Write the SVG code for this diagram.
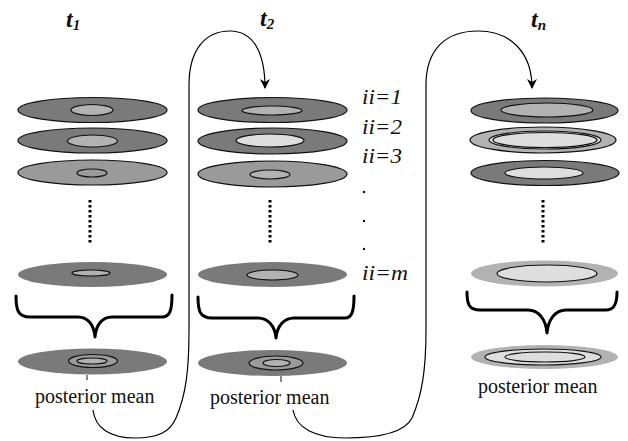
<svg xmlns="http://www.w3.org/2000/svg" width="628" height="441" viewBox="0 0 628 441">
<defs>
<style>
.o{stroke:#111;stroke-width:1.2}
.n{stroke:none}
.d{fill:#7a7a7a}
.m{fill:#9a9a9a}
.l{fill:#b2b2b2}
.v{fill:#dedede}
.br{fill:none;stroke:#000;stroke-width:3;stroke-linecap:round;stroke-linejoin:round}
.dots{stroke:#000;stroke-width:3;stroke-dasharray:2.5 2.5}
text{font-family:'Liberation Serif','Times New Roman',Tinos,'DejaVu Serif','Noto Serif',serif}
.pm{font-size:20px;fill:#111}
.t{font-weight:bold;font-style:italic;fill:#111}
.ii{font-style:italic;font-size:21px;fill:#111}
.c{fill:none;stroke:#000;stroke-width:1.2}
</style>
<marker id="ah" viewBox="0 0 10 10" refX="9" refY="5" markerWidth="10" markerHeight="10" markerUnits="userSpaceOnUse" orient="auto">
<path d="M0,0 L10,5 L0,10 L3,5 Z" fill="#000"/>
</marker>
</defs>
<rect width="628" height="441" fill="#fff"/>

<g id="labels">
<text class="t" x="66" y="27" font-size="24">t<tspan font-size="15" dy="3">1</tspan></text>
<text class="t" x="260" y="26" font-size="24">t<tspan font-size="15" dy="3">2</tspan></text>
<text class="t" x="531" y="27" font-size="24">t<tspan font-size="15" dy="3">n</tspan></text>
<text class="ii" x="362" y="104" textLength="40" lengthAdjust="spacingAndGlyphs">ii=1</text>
<text class="ii" x="362" y="134" textLength="40" lengthAdjust="spacingAndGlyphs">ii=2</text>
<text class="ii" x="362" y="163" textLength="40" lengthAdjust="spacingAndGlyphs">ii=3</text>
<circle cx="364" cy="192" r="1.2" fill="#111"/>
<circle cx="364" cy="221" r="1.2" fill="#111"/>
<circle cx="364" cy="249" r="1.2" fill="#111"/>
<text class="ii" x="362" y="280" textLength="46" lengthAdjust="spacingAndGlyphs">ii=m</text>
</g>

<g id="column1">
<ellipse class="d o" cx="92.5" cy="110" rx="74.5" ry="12.5"/>
<ellipse class="l o" cx="92" cy="110" rx="21" ry="5.5"/>
<ellipse class="d o" cx="92.5" cy="140.5" rx="74.5" ry="12.5"/>
<ellipse class="l o" cx="92.5" cy="141" rx="25" ry="6"/>
<ellipse class="m o" cx="92.5" cy="172.5" rx="74.5" ry="12.5"/>
<ellipse class="m o" cx="92" cy="173" rx="15" ry="4"/>
<line class="dots" x1="90" y1="200" x2="90" y2="243"/>
<ellipse class="d n" cx="92.5" cy="274.5" rx="74.5" ry="12.5"/>
<ellipse class="l o" cx="91" cy="273" rx="19" ry="3"/>
<path class="br" d="M16,296 C16,310 18,317 30,317 L78,317 C88,317 94,325 95,337 C96,325 102,317 112,317 L162,317 C170,317 172,310 172,295"/>
<ellipse class="d n" cx="92.5" cy="361.5" rx="74.5" ry="13"/>
<ellipse class="m o" cx="93" cy="361" rx="24.5" ry="6.5"/>
<ellipse class="l o" cx="92" cy="361" rx="15" ry="3"/>
<line x1="87" y1="375" x2="87" y2="380" stroke="#111" stroke-width="1"/>
<text class="pm" x="35" y="403">posterior mean</text>
</g>

<g id="column2">
<ellipse class="d o" cx="272.5" cy="110" rx="74.5" ry="12.5"/>
<ellipse class="l o" cx="272" cy="110.5" rx="30" ry="4.5"/>
<ellipse class="d o" cx="272.5" cy="141" rx="74.5" ry="13"/>
<ellipse class="v o" cx="270" cy="140.5" rx="34" ry="6.5"/>
<ellipse class="m o" cx="272.5" cy="174" rx="74.5" ry="13"/>
<ellipse class="l o" cx="270" cy="174.5" rx="20" ry="4.5"/>
<line class="dots" x1="270" y1="200" x2="270" y2="243"/>
<ellipse class="d n" cx="272.5" cy="274.5" rx="74.5" ry="12.5"/>
<ellipse class="l o" cx="272.5" cy="275" rx="25.5" ry="5"/>
<path class="br" d="M198,297 C198,311 200,318 212,318 L258,318 C268,318 275,326 276,338 C277,326 284,318 294,318 L345,318 C352,318 354,311 354,296"/>
<ellipse class="d n" cx="272.5" cy="363" rx="74.5" ry="13"/>
<ellipse class="m o" cx="276" cy="363" rx="27" ry="7"/>
<ellipse class="l o" cx="276.5" cy="363" rx="13.5" ry="3.5"/>
<line x1="281" y1="376" x2="281" y2="382" stroke="#111" stroke-width="1"/>
<text class="pm" x="210" y="404">posterior mean</text>
</g>

<g id="columnN">
<ellipse class="d o" cx="544.5" cy="110.5" rx="73.5" ry="12.5"/>
<ellipse class="l o" cx="547" cy="110" rx="46" ry="7"/>
<ellipse class="l o" cx="543" cy="140" rx="73" ry="13"/>
<ellipse class="v o" cx="545" cy="140" rx="56" ry="9"/>
<ellipse class="v o" cx="545" cy="140" rx="52" ry="7.5"/>
<ellipse class="d o" cx="545" cy="173" rx="74" ry="12.5"/>
<ellipse class="v o" cx="544" cy="173" rx="39" ry="6"/>
<line class="dots" x1="543" y1="200" x2="543" y2="243"/>
<ellipse class="l n" cx="544.5" cy="273.5" rx="73.5" ry="13"/>
<ellipse class="v o" cx="547" cy="273.5" rx="50" ry="8.5"/>
<path class="br" d="M467,292 C467,304 469,310 480,310 L528,310 C539,310 546,320 547,333 C548,320 555,310 566,310 L606,310 C614,310 617,304 617,292"/>
<ellipse class="l n" cx="544.5" cy="357" rx="73.5" ry="12"/>
<ellipse class="v o" cx="543" cy="357" rx="58" ry="8"/>
<ellipse class="v o" cx="545" cy="357" rx="40" ry="5"/>
<text class="pm" x="478" y="393">posterior mean</text>
</g>

<g id="connectors">
<path class="c" marker-end="url(#ah)" d="M93,410 C95,428 110,438 135,438 C158,438 170,432 176,418 C186,395 189,370 189,330 L189,85 C189,50 205,31 230,31 C253,31 265,52 265,88"/>
<path class="c" marker-end="url(#ah)" d="M293,410 C296,428 315,438 345,438 C380,438 405,432 412,418 C422,395 426,370 426,330 L426,85 C426,50 445,31 478,31 C510,31 532,52 532,88"/>
</g>
</svg>
